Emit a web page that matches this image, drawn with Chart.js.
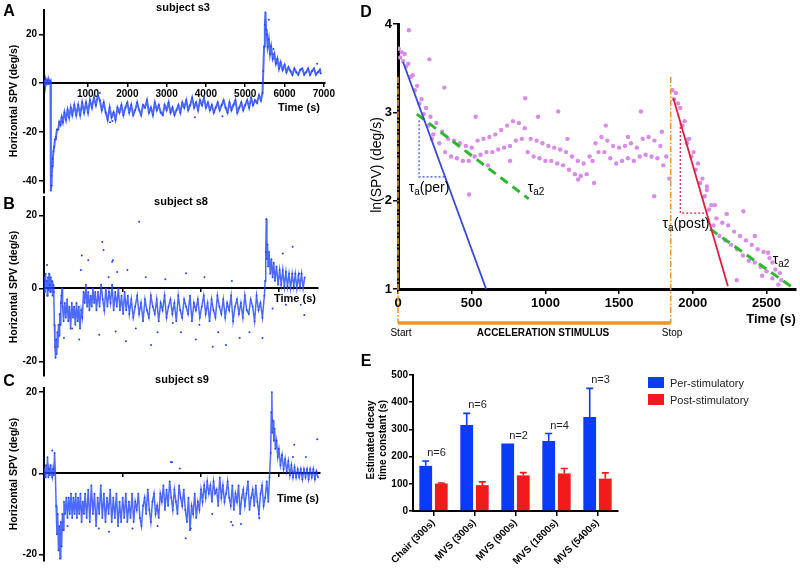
<!DOCTYPE html>
<html>
<head>
<meta charset="utf-8">
<script src="https://cdn.jsdelivr.net/npm/chart.js@4.4.1/dist/chart.umd.min.js"></script>
<style>
  body { margin: 0; background: #fff; overflow: hidden; }
  #fig { position: relative; width: 800px; height: 569px; font-family: "Liberation Sans", Arial, sans-serif; }
  #fig canvas { position: absolute; left: 0; top: 0; }
  .txt { position: absolute; white-space: nowrap; color: #000; z-index: 5; line-height: 1; }
  .txt sub { font-size: 10px; vertical-align: -3px; }
</style>
</head>
<body>
<div id="fig">
  <canvas id="chartA" width="800" height="569"></canvas>
  <canvas id="chartB" width="800" height="569"></canvas>
  <canvas id="chartC" width="800" height="569"></canvas>
  <canvas id="chartD" width="800" height="569"></canvas>
  <canvas id="chartE" width="800" height="569"></canvas>
</div>
<script>
// ---- data ----

// panels A-C: horizontal slow phase velocity, [time (s), deg/s]
const traceA = [[-115,1],[-95,-0.5],[-75,1.5],[-55,0],[-35,1],[-15,-0.3],[5,1.2],[25,0.2],[45,0.8],
  [55,-44],[65,-42],[75,-38],[90,-34],[105,-31],[120,-28],[140,-26],[160,-23],[185,-22],[210,-19],[240,-19],[270,-16],[300,-17],[330,-14],[360,-16],[400,-12],[440,-15],[480,-11],[520,-14],[560,-10],[600,-13],[650,-9],[700,-13],[750,-9],[800,-13],[850,-8],[900,-12],[950,-8],
  [1000,-12],[1050,-7],[1100,-10],[1150,-6],[1200,-9],[1250,-5],[1300,-7],[1350,-11],[1400,-8],[1450,-12],[1500,-15],[1550,-10],[1600,-14],[1650,-12],[1700,-15],[1750,-10],[1800,-12],[1850,-9],[1900,-13],[1950,-10],
  [2000,-8],[2050,-12],[2100,-9],[2150,-13],[2200,-11],[2250,-8],[2300,-11],[2350,-13],[2400,-9],[2450,-10],[2500,-7],[2550,-12],[2600,-10],[2650,-13],[2700,-8],[2750,-11],[2800,-9],[2850,-12],[2900,-13],[2950,-9],
  [3000,-11],[3050,-8],[3100,-12],[3150,-10],[3200,-13],[3250,-11],[3300,-9],[3350,-12],[3400,-8],[3450,-10],[3500,-7],[3550,-11],[3600,-9],[3650,-6],[3700,-10],[3750,-8],[3800,-11],[3850,-7],[3900,-9],[3950,-6],
  [4000,-10],[4050,-8],[4100,-11],[4150,-9],[4200,-12],[4250,-10],[4300,-8],[4350,-11],[4400,-9],[4450,-7],[4500,-10],[4550,-12],[4600,-8],[4650,-11],[4700,-9],[4750,-7],[4800,-12],[4850,-10],[4900,-8],[4950,-11],
  [5000,-9],[5050,-7],[5100,-10],[5150,-6],[5200,-9],[5250,-7],[5300,-8],[5350,-5],[5400,-7],[5440,-4],
  [5460,5],[5480,15],[5500,24],[5515,29],[5530,22],[5550,20],[5570,15],[5600,18],[5630,12],[5660,15],[5700,10],[5740,12],[5780,8],[5820,10],[5860,6],[5900,8.5],[5950,5.5],[6000,7.5],[6050,4.5],[6100,6.5],
  [6150,5],[6200,3.5],[6250,6],[6300,4.5],[6350,3.5],[6400,5.5],[6450,6],[6500,3.5],[6550,4.5],[6600,6],[6650,3.5],[6700,5],[6750,6],[6800,3.5],[6850,4.5],[6900,5.5],[6920,4]];
const strayA = [[1300,-4],[1560,-16],[1620,-15.5],[3720,-14],[4420,-13.5],[5600,26],[5720,14],[6830,8]];

const traceB = [[10,3],[25,-1],[40,4],[55,0],[70,2],[85,-2],[100,3],[115,-0.5],[130,4],[145,1],[160,-1],[175,3],[190,0],[205,2],[220,-2],[235,1],[250,-1],
  [265,-10],[280,-16],[295,-19],[310,-14],[325,-18],[340,-12],[355,-16],[370,-10],[385,-13],[400,-7],[415,-10],[430,-4],[445,-2],[460,0],[475,-5],[500,-9],[530,-4],[560,-8],[590,-3],[620,-9],[650,-5],[680,-11],[710,-4],[740,-8],[770,-5],[800,-10],[830,-4],[860,-9],[890,-5],[920,-11],[950,-6],[980,-8],
  [1010,-1],[1040,-4],[1070,1],[1100,-5],[1130,-1],[1160,-6],[1190,-2],[1220,-5],[1250,0],[1280,-4],[1310,-1],[1340,-6],[1380,-1],[1420,-5],[1460,1],[1500,-3],[1540,-6],[1580,0],[1620,-5],[1660,-1],[1700,-4],[1740,1],[1780,-6],[1820,-1],[1860,-5],[1900,0],[1940,-6],[1980,-2],[2020,-7],[2060,-1],[2100,-6],[2140,-2],[2180,-7],
  [2230,-3],[2280,-8],[2330,-5],[2380,-2],[2430,-7],[2480,-4],[2530,-9],[2580,-3],[2630,-6],[2680,-8],[2730,-2],[2780,-5],[2830,-7],[2880,-3],[2930,-9],[2980,-4],[3030,-6],[3080,-2],[3130,-8],[3180,-5],
  [3230,-3],[3280,-7],[3330,-4],[3380,-9],[3430,-2],[3480,-6],[3530,-8],[3580,-3],[3630,-5],[3680,-7],[3730,-2],[3780,-9],[3830,-4],[3880,-6],[3930,-3],[3980,-8],[4030,-5],[4080,-2],[4130,-7],[4180,-4],
  [4230,-9],[4280,-3],[4330,-6],[4380,-8],[4430,-2],[4480,-5],[4530,-7],[4580,-3],[4630,-8],[4680,-4],[4730,-6],[4780,-2],[4830,-9],[4880,-5],[4930,-3],[4980,-7],[5030,-4],[5080,-8],[5130,-2],[5180,-6],
  [5230,-7],[5280,-3],[5330,-5],[5380,-9],[5430,-2],[5480,-6],[5530,-4],[5580,-8],[5630,-2],
  [5650,2],[5665,10],[5680,19],[5695,8],[5710,12],[5725,6],[5750,10],[5780,4],[5810,8],[5840,3],[5870,7],[5900,2],[5940,6],[5980,1],[6020,5],[6060,1],[6100,5],[6140,0.5],[6180,4.5],[6220,0.5],
  [6260,4],[6300,0],[6340,4],[6380,0.5],[6420,4],[6460,0],[6500,3.5],[6540,0.5],[6580,4],[6620,0],[6660,3]];
const strayB = [[77,6.4],[940,5],[965,9],[1130,7.7],[1490,12.7],[1520,10.5],[1740,7.3],[1760,7.7],[1870,4.5],[2130,5],[2430,18.2],[3630,4.1],
  [510,-13.6],[720,-11],[900,-14],[1410,-12.7],[1830,-11.8],[2090,-14.5],[2345,-11],[2735,-15.5],[3290,-9.5],[3880,-14],[3970,-10],[4310,-16],[4650,-15.5],[5000,-13.6],[5580,-13.6],
  [5840,-5.5],[6100,9.5],[6180,-4.5],[6350,11.4],[6520,4],[6560,-4.5],[6650,-7.3],[2600,3],[3100,2.5],[4100,3],[4800,2],[1650,3],[2900,-12],[3500,-12],[4450,-12],[5250,-12]];

const traceC = [[10,1],[30,-1],[50,2],[70,0],[90,4],[110,-1],[130,1],[150,-0.5],[170,2],[190,0],[210,-1],[230,1],[250,-0.5],[270,5],[290,0],
  [310,-8],[330,-15],[350,-10],[370,-19],[390,-13],[410,-21],[430,-12],[450,-18],[470,-10],[490,-14],[510,-7],
  [540,-10],[570,-6],[600,-11],[630,-6],[660,-10],[690,-5],[720,-11],[750,-6],[780,-10],[810,-5],[840,-11],[870,-6],[900,-10],[930,-5],[960,-12],[990,-7],[1020,-10],[1050,-5],
  [1090,-11],[1130,-4],[1170,-12],[1210,-3],[1250,-10],[1290,-5],[1330,-13],[1370,-6],[1410,-10],[1450,-3],[1490,-11],[1530,-5],[1570,-12],[1610,-6],[1650,-10],[1690,-4],[1730,-12],[1770,-6],[1810,-11],[1850,-5],
  [1890,-13],[1930,-7],[1970,-12],[2010,-6],[2050,-11],[2090,-5],[2130,-12],[2170,-7],[2210,-11],[2250,-5],
  [2290,-12],[2330,-7],[2370,-9],[2410,-5],[2450,-11],[2490,-13],[2530,-8],[2570,-6],[2610,-10],[2650,-4],[2690,-9],[2730,-12],[2770,-7],[2810,-5],[2850,-10],[2890,-8],[2930,-11],[2970,-5],[3010,-7],[3050,-3],
  [3090,-9],[3130,-4],[3170,-8],[3210,-2],[3250,-6],[3290,-9],[3330,-4],[3370,-7],[3410,-10],[3450,-3],[3490,-6],[3530,-8],[3570,-4],[3610,-9],[3650,-12],[3690,-6],[3730,-14],[3770,-8],[3810,-10],[3850,-5],
  [3890,-11],[3930,-7],[3970,-9],[4010,-4],[4050,-7],[4090,-3],[4130,-6],[4170,-2],[4210,-5],[4250,-3],[4290,-7],[4330,-2],[4370,-5],[4410,-4],[4450,-8],[4490,-1],[4530,-6],[4570,-3],[4610,-7],[4650,-5],
  [4690,-2],[4730,-6],[4770,-8],[4810,-3],[4850,-9],[4890,-5],[4930,-7],[4970,-3],[5010,-10],[5050,-6],[5090,-4],[5130,-8],[5170,-5],[5210,-2],[5250,-9],[5290,-6],[5330,-4],[5370,-8],[5410,-3],[5450,-7],
  [5490,-10],[5530,-5],[5570,-3],[5610,-8],[5650,-6],[5690,-2],[5730,-7],[5760,-1],
  [5790,5],[5805,15],[5820,20],[5835,10],[5850,13],[5870,8],[5890,11],[5910,6],[5940,8],[5970,4],[6000,6],[6040,2],[6080,4.5],[6120,1],[6160,3.5],[6200,0.5],[6240,3],[6280,-0.5],[6320,2],[6360,-1],
  [6400,1.5],[6440,-1],[6480,1],[6520,-1],[6560,1],[6600,-1.5],[6640,1],[6680,-1],[6720,1],[6760,-1.5],[6800,1],[6840,-1],[6880,1],[6920,-1.5],[6960,0.5],[7000,-1]];
const strayC = [[210,5.6],[3240,2.8],[3270,2.7],[3470,1.2],[1400,-13.6],[1660,-14.4],[2260,-13.6],[3620,-16],[3750,-13.6],[4780,-12],[5030,-12.5],[4820,-12.8],
  [6360,4],[6390,7],[6690,4],[6980,8.4],[2900,-13],[600,-13],[4300,-10],[5500,-11]];

const ticksXA = [1000, 2000, 3000, 4000, 5000, 6000, 7000];
const ticksXBC = [2000, 4000, 6000];
const ticksYA = [-40, -20, 0, 20];
const ticksYBC = [-20, 0, 20];

// panel D: ln(SPV) vs time, [time (s), ln value]
const lnPer = [[5,3.72],[15,3.62],[25,3.68],[35,3.58],[45,3.66],[55,3.52],[70,3.55],[85,3.4],[100,3.42],[115,3.25],[130,3.3],[145,3.1],[160,3.15],[175,2.98],[190,3.05],[205,2.85],[220,2.95],[240,2.75],[260,2.88],[280,2.65],
  [300,2.78],[320,2.55],[340,2.7],[360,2.5],[380,2.68],[400,2.48],[420,2.65],[440,2.45],[460,2.62],[480,2.45],[500,2.6],[520,2.5],[540,2.68],[560,2.52],[580,2.7],[600,2.55],[620,2.72],[640,2.55],[660,2.75],[680,2.58],
  [700,2.8],[720,2.6],[740,2.85],[760,2.62],[780,2.9],[800,2.68],[820,2.88],[840,2.7],[860,2.82],[880,2.55],[900,2.7],[920,2.5],[940,2.68],[960,2.48],[980,2.65],[1000,2.45],[1020,2.62],[1040,2.45],[1060,2.6],[1080,2.42],
  [1100,2.58],[1120,2.4],[1140,2.55],[1160,2.35],[1180,2.5],[1200,2.3],[1220,2.45],[1240,2.28],[1260,2.42],[1280,2.3],[1300,2.5],[1320,2.45],[1340,2.65],[1360,2.55],[1380,2.72],[1400,2.55],[1420,2.68],[1440,2.48],[1460,2.62],[1480,2.42],
  [1500,2.6],[1520,2.45],[1540,2.62],[1560,2.48],[1580,2.65],[1600,2.45],[1620,2.6],[1640,2.5],[1660,2.7],[1680,2.52],[1700,2.72],[1720,2.5],[1740,2.68],[1760,2.48],[1780,2.62],[1800,2.4],[1820,2.5],[1840,2.25]];
const lnPost = [[1862,3.25],[1872,3.15],[1885,3.22],[1900,3.1],[1915,3.05],[1930,2.85],[1945,2.9],[1960,2.65],[1975,2.7],[1990,2.5],[2005,2.55],[2020,2.35],[2035,2.42],[2050,2.2],[2065,2.25],[2080,2.05],[2095,2.12],[2110,1.9],[2125,1.95],[2140,1.72],
  [2160,1.8],[2180,1.6],[2200,1.75],[2220,1.55],[2240,1.72],[2260,1.5],[2280,1.65],[2300,1.45],[2320,1.6],[2340,1.38],[2360,1.55],[2380,1.32],[2400,1.5],[2420,1.3],[2440,1.45],[2460,1.25],[2480,1.42],[2500,1.2],[2520,1.35],[2540,1.12],
  [2560,1.22],[2580,1.05],[2600,1.1]];
const lnStray = [[74,3.93],[213,3.6],[314,3.28],[527,2.95],[863,3.16],[1087,3.01],[1648,3.01],[482,2.07],[1222,2.24],[1738,2.05],[2343,1.88],[2511,1.41],[2590,1.18],[2096,2.16],[1962,2.69],[2298,1.1],[950,2.95],[1410,2.85],
  [230,2.7],[610,2.4],[760,2.45],[1150,2.7],[1330,2.2],[1560,2.72],[1790,2.78],[2150,1.95],[2230,1.85],[2420,1.6],[2470,1.15],[2540,1.3]];

// fitted decay lines and slope triangles
const fitPer = [[34,3.57],[598,1]];
const fitPer2 = [[128,2.98],[887,2.02]];
const triPer = [[143,2.91],[143,2.27],[323,2.27]];
const fitPost = [[1868,3.16],[2238,1.03]];
const fitPost2 = [[2117,1.68],[2690,1]];
const triPost = [[1915,2.88],[1915,1.86],[2097,1.86]];
const stimulusTimes = [0, 1850]; // start, stop
const stimulusTop = 3.4;
const ticksXD = [0, 500, 1000, 1500, 2000, 2500];
const ticksYD = [1, 2, 3, 4];

// panel E: estimated decay time constants
const conditions = ['Chair (300s)', 'MVS (300s)', 'MVS (900s)', 'MVS (1800s)', 'MVS (5400s)'];
const seriesNames = ['Per-stimulatory', 'Post-stimulatory'];
const perValues = [166, 316, 248, 257, 346];
const perErrors = [18, 43, 0, 28, 105];
const postValues = [101, 95, 131, 138, 119];
const postErrors = [2, 12, 10, 18, 21];
const nSubjects = [6, 6, 2, 4, 3];
const ticksYE = [0, 100, 200, 300, 400, 500];

// ---- drawing ----
const FONT = '"Liberation Sans", Arial, sans-serif';
Chart.defaults.font.family = FONT;
Chart.defaults.color = '#000';
Chart.defaults.animation = false;

const dotBlue = '#1f45ff';
const pink = '#d98be8';
const orange = '#f7941d';
const barBlue = '#0a3cf7';
const barRed = '#f21a1a';
const seriesColors = [barBlue, barRed];

const fig = document.getElementById('fig');

function toXY(pairs) {
  return pairs.map(p => ({ x: p[0], y: p[1] }));
}

function tickList(list) {
  return s => { s.ticks = list.map(v => ({ value: v })); };
}

function axisStyle(tickLen, borderW) {
  return {
    grid: { display: true, drawOnChartArea: false, drawTicks: true, tickLength: tickLen, color: '#000', lineWidth: 1.5 },
    border: { display: true, color: '#000', width: borderW }
  };
}

// panels A, B, C share the same look: x axis crossing at y = 0
function tracePanel(id, trace, strays, area, xRange, yRange, xTicks, yTicks, xLabels, lineW) {
  new Chart(document.getElementById(id), {
    type: 'scatter',
    data: {
      datasets: [
        { data: toXY(strays), pointRadius: 1, pointBorderWidth: 0, backgroundColor: dotBlue },
        { data: toXY(trace), showLine: true, borderColor: 'rgba(31,69,255,0.8)', borderWidth: lineW,
          pointRadius: 0.9, pointBorderWidth: 0, pointBackgroundColor: dotBlue }
      ]
    },
    options: {
      responsive: false,
      events: [],
      layout: { padding: { left: area.left - 30, right: 800 - area.right, top: area.top, bottom: 569 - area.bottom } },
      plugins: { legend: { display: false }, tooltip: { enabled: false } },
      scales: {
        x: Object.assign({
          type: 'linear', min: xRange[0], max: xRange[1], position: { y: 0 },
          afterFit: s => { s.height = 0; },
          afterBuildTicks: tickList(xTicks),
          ticks: { padding: 2, autoSkip: false, maxRotation: 0, font: { size: 10, weight: 'bold' },
                   callback: v => xLabels ? String(v) : '' }
        }, axisStyle(3, 2)),
        y: Object.assign({
          min: yRange[0], max: yRange[1],
          afterFit: s => { s.width = 30; },
          afterBuildTicks: tickList(yTicks),
          ticks: { padding: 2, font: { size: 10, weight: 'bold' } }
        }, axisStyle(5, 2))
      }
    }
  });
}

tracePanel('chartA', traceA, strayA, { left: 44, right: 325, top: 10, bottom: 193 }, [-120, 7030], [-45, 30], ticksXA, ticksYA, true, 2);
tracePanel('chartB', traceB, strayB, { left: 44, right: 318, top: 197, bottom: 376 }, [0, 7000], [-24, 25], ticksXBC, ticksYBC, false, 1.5);
tracePanel('chartC', traceC, strayC, { left: 44, right: 320, top: 388, bottom: 569 }, [0, 7050], [-21.6, 21], ticksXBC, ticksYBC, false, 1.5);

// orange stimulus markers below panel D
const stimulusMarks = {
  id: 'stimulusMarks',
  afterDraw(chart) {
    const { ctx, chartArea } = chart;
    const x = chart.scales.x, y = chart.scales.y;
    const barY = chartArea.bottom + 34;
    ctx.save();
    ctx.strokeStyle = orange;
    ctx.lineWidth = 1.5;
    ctx.setLineDash([6, 2, 1.5, 2]);
    stimulusTimes.forEach(t => {
      const px = x.getPixelForValue(t);
      ctx.beginPath();
      ctx.moveTo(px, y.getPixelForValue(stimulusTop));
      ctx.lineTo(px, barY);
      ctx.stroke();
    });
    ctx.setLineDash([]);
    ctx.lineWidth = 3.5;
    ctx.beginPath();
    ctx.moveTo(x.getPixelForValue(stimulusTimes[0]), barY);
    ctx.lineTo(x.getPixelForValue(stimulusTimes[1]), barY);
    ctx.stroke();
    ctx.restore();
  }
};

function fitLine(pairs, color, width, dash) {
  return { data: toXY(pairs), showLine: true, borderColor: color, borderWidth: width, borderDash: dash,
           pointRadius: 0, order: 1 };
}

function pinkDots(pairs) {
  return { data: toXY(pairs), pointRadius: 2.2, pointBorderWidth: 0, backgroundColor: pink, order: 10 };
}

new Chart(document.getElementById('chartD'), {
  type: 'scatter',
  data: {
    datasets: [
      fitLine(fitPer, '#3548e0', 1.8, []),
      fitLine(fitPer2, '#2fb82f', 3, [9, 6]),
      fitLine(triPer, '#3548e0', 1.2, [2, 2]),
      fitLine(fitPost, '#e51c3c', 1.8, []),
      fitLine(fitPost2, '#2fb82f', 3, [9, 6]),
      fitLine(triPost, '#e51c3c', 1.2, [2, 2]),
      pinkDots(lnStray),
      pinkDots(lnPer),
      pinkDots(lnPost)
    ]
  },
  options: {
    responsive: false,
    events: [],
    layout: { padding: { left: 372, right: 2, top: 24, bottom: 250 } },
    plugins: { legend: { display: false }, tooltip: { enabled: false } },
    scales: {
      x: Object.assign({
        type: 'linear', min: 0, max: 2700,
        afterFit: s => { s.height = 30; },
        afterBuildTicks: tickList(ticksXD),
        ticks: { padding: 2, autoSkip: false, maxRotation: 0, font: { size: 13, weight: 'bold' }, callback: v => String(v) }
      }, axisStyle(5, 3)),
      y: Object.assign({
        min: 1, max: 4,
        afterFit: s => { s.width = 26; },
        afterBuildTicks: tickList(ticksYD),
        ticks: { padding: 1, font: { size: 13, weight: 'bold' } }
      }, axisStyle(5, 3))
    }
  },
  plugins: [stimulusMarks]
});

// error bars and n= labels for panel E
const errorBars = {
  id: 'errorBars',
  afterDatasetsDraw(chart) {
    const { ctx } = chart;
    const y = chart.scales.y, x = chart.scales.x;
    chart.data.datasets.forEach((ds, i) => {
      const meta = chart.getDatasetMeta(i);
      meta.data.forEach((bar, j) => {
        const err = ds.errors[j];
        if (!err) return;
        const top = y.getPixelForValue(ds.data[j] + err);
        ctx.save();
        ctx.strokeStyle = ds.backgroundColor;
        ctx.lineWidth = 1.6;
        ctx.beginPath();
        ctx.moveTo(bar.x, bar.y);
        ctx.lineTo(bar.x, top);
        ctx.moveTo(bar.x - 3.5, top);
        ctx.lineTo(bar.x + 3.5, top);
        ctx.stroke();
        ctx.restore();
      });
    });
    ctx.save();
    ctx.font = '11px ' + FONT;
    ctx.fillStyle = '#222';
    ctx.textAlign = 'center';
    ctx.textBaseline = 'middle';
    nSubjects.forEach((n, j) => {
      ctx.fillText('n=' + n, x.getPixelForValue(j) + 3, y.getPixelForValue(perValues[j] + perErrors[j]) - 8);
    });
    ctx.restore();
  }
};

new Chart(document.getElementById('chartE'), {
  type: 'bar',
  data: {
    labels: conditions,
    datasets: [
      { label: seriesNames[0], data: perValues, errors: perErrors, backgroundColor: barBlue },
      { label: seriesNames[1], data: postValues, errors: postErrors, backgroundColor: barRed }
    ]
  },
  options: {
    responsive: false,
    events: [],
    categoryPercentage: 0.76,
    barPercentage: 0.82,
    layout: { padding: { left: 390, right: 182, top: 375, bottom: 0 } },
    plugins: { legend: { display: false }, tooltip: { enabled: false } },
    scales: {
      x: {
        afterFit: s => { s.height = 58; },
        grid: { display: true, offset: false, drawOnChartArea: false, drawTicks: true, tickLength: 5, color: '#000', lineWidth: 1.5 },
        border: { display: true, color: '#000', width: 2 },
        ticks: { padding: 1, autoSkip: false, minRotation: 45, maxRotation: 45, font: { size: 10, weight: 'bold' } }
      },
      y: Object.assign({
        min: 0, max: 500,
        afterFit: s => { s.width = 23; },
        afterBuildTicks: tickList(ticksYE),
        ticks: { padding: 1, font: { size: 10, weight: 'bold' } }
      }, axisStyle(4, 2))
    }
  },
  plugins: [errorBars]
});

// ---- text around the charts ----
function addText(html, x, y, css) {
  const d = document.createElement('div');
  d.className = 'txt';
  d.innerHTML = html;
  d.style.left = x + 'px';
  d.style.top = y + 'px';
  d.style.transform = 'translate(-50%, -50%)';
  d.style.cssText += css || '';
  fig.appendChild(d);
  return d;
}
const bold = 'font-weight:bold;';
const upright = 'transform:translate(-50%,-50%) rotate(-90deg);';

addText('A', 9, 11, bold + 'font-size:16px;');
addText('B', 9, 204, bold + 'font-size:16px;');
addText('C', 9, 381, bold + 'font-size:16px;');
addText('D', 366, 12, bold + 'font-size:16px;');
addText('E', 366, 361, bold + 'font-size:16px;');

addText('subject s3', 183, 7, bold + 'font-size:11px;');
addText('subject s8', 181, 201, bold + 'font-size:11px;');
addText('subject s9', 182, 379, bold + 'font-size:11px;');

[101, 287, 474].forEach(cy => addText('Horizontal SPV (deg/s)', 13, cy, bold + 'font-size:10.5px;' + upright));
addText('Time (s)', 299, 107, bold + 'font-size:11px;');
addText('Time (s)', 295, 298, bold + 'font-size:11px;');
addText('Time (s)', 298, 498, bold + 'font-size:11px;');

addText('ln(SPV) (deg/s)', 376, 165, 'font-size:14px;' + upright);
addText('Time (s)', 771, 318, bold + 'font-size:13px;');
addText('Start', 401, 333, 'font-size:10px;');
addText('ACCELERATION STIMULUS', 543, 333, bold + 'font-size:10px;');
addText('Stop', 672, 333, 'font-size:10px;');
addText('&tau;<sub>a</sub>(per)', 429, 188, 'font-size:14px;');
addText('&tau;<sub>a2</sub>', 536, 188, 'font-size:14px;');
addText('&tau;<sub>a</sub>(post)', 686, 224, 'font-size:14px;');
addText('&tau;<sub>a2</sub>', 781, 260, 'font-size:14px;');

addText('Estimated decay<br>time constant (s)', 377, 440, bold + 'font-size:10px;line-height:12px;text-align:center;' + upright);

// legend for panel E
seriesNames.forEach((name, i) => {
  const top = 383 + i * 17;
  const sw = document.createElement('div');
  sw.className = 'txt';
  sw.style.cssText += 'left:648px;top:' + (top - 6) + 'px;width:16px;height:11px;background:' + seriesColors[i] + ';';
  fig.appendChild(sw);
  const lab = addText(name, 670, top, 'font-size:11px;color:#222;');
  lab.style.transform = 'translate(0, -50%)';
});
</script>
</body>
</html>
